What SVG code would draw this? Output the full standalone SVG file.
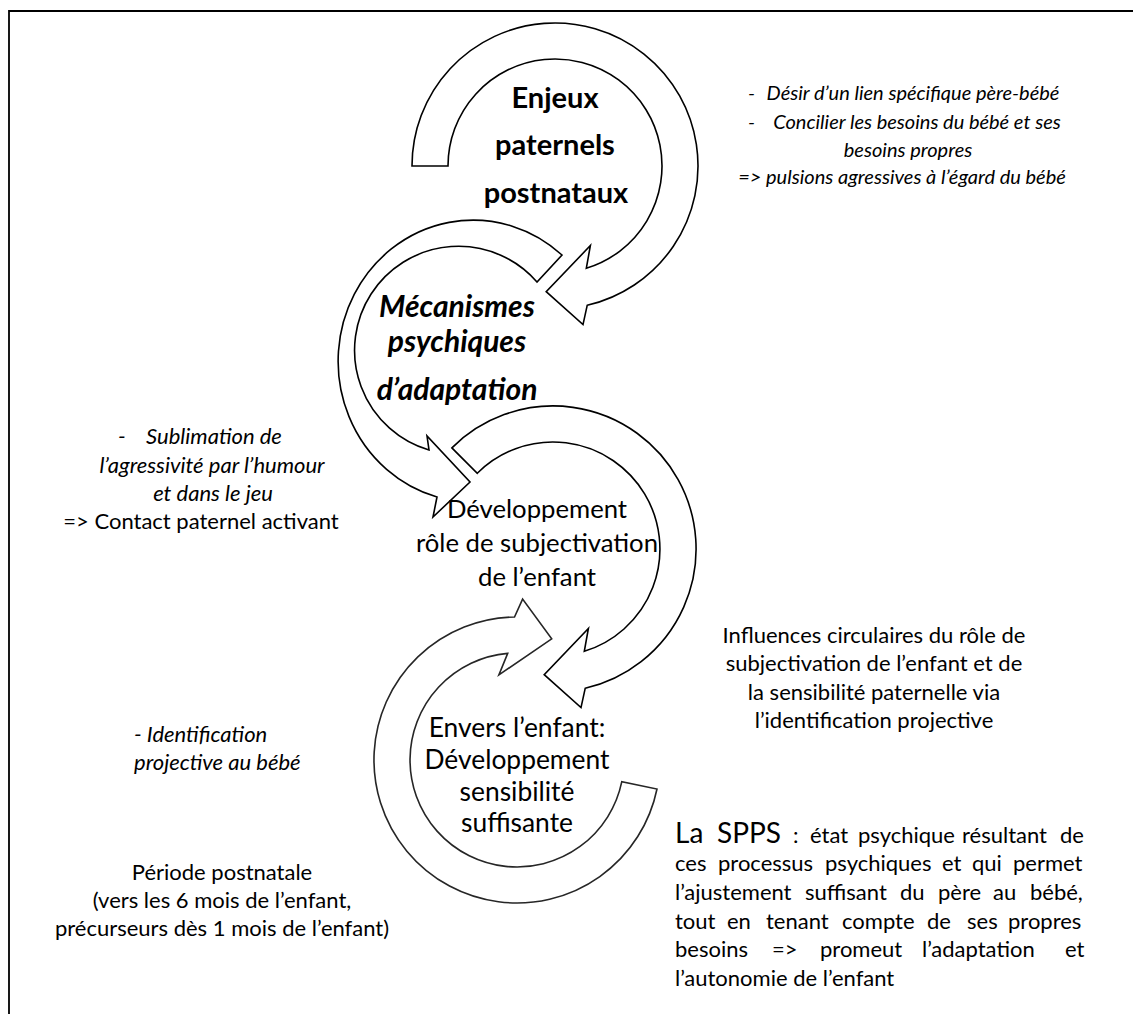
<svg xmlns="http://www.w3.org/2000/svg" width="1133" height="1014" viewBox="0 0 1133 1014">
<style>
  .arrow { fill: #ffffff; stroke: #000000; stroke-width: 1.6; stroke-linejoin: miter; }
  .arrow4 { fill: #ffffff; stroke: #262626; stroke-width: 1.6; }
  text { font-family: Lato, "Liberation Sans", sans-serif; fill: #000000; }
  .big { font-weight: bold; font-size: 29px; text-anchor: middle; }
  .bigi { font-weight: bold; font-style: italic; font-size: 30px; text-anchor: middle; }
  .mid { font-size: 25.7px; text-anchor: middle; }
  .body { font-size: 22px; }
  .it { font-style: italic; }
  .c { text-anchor: middle; }
</style>
<path d="M9,1014 L9,11 L1133,11" fill="none" stroke="#000" stroke-width="1.8"/>

<g id="n-enjeux">
  <path class="arrow" d="M412,166 A143,143 0 1 1 587.2,305.3 L583,324.6 L546.2,291.7 L590.4,245.5 L586.3,268.3 A107,107 0 1 0 448,166 Z"/>
  <text class="big" x="555" y="108">Enjeux</text>
  <text class="big" x="555" y="155">paternels</text>
  <text class="big" x="556" y="203">postnataux</text>
</g>

<g id="n-mecanismes">
  <path class="arrow" d="M562,255 A135,141 0 1 0 437,497 L433,517 L470,482 L427,436 L429,450 A104,104 0 1 1 537,282 Z"/>
  <text class="bigi" x="457" y="317">Mécanismes</text>
  <text class="bigi" x="457" y="352">psychiques</text>
  <text class="bigi" x="457" y="400">d’adaptation</text>
</g>

<g id="n-developpement">
  <path class="arrow" d="M451.9,447.9 A143,143 0 1 1 585.2,688.3 L581,707.6 L544.2,674.7 L588.4,628.5 L584.3,651.3 A107,107 0 1 0 477.3,473.3 Z"/>
  <text class="mid" x="537" y="518">Développement</text>
  <text class="mid" x="537" y="552">rôle de subjectivation</text>
  <text class="mid" x="537" y="586">de l’enfant</text>
</g>

<g id="n-sensibilite">
  <path class="arrow4" d="M657,789 A143,143 0 1 1 514.5,617 L522.6,599.1 L551.7,638.9 L498.9,674.9 L507.7,653.4 A107,107 0 1 0 621.8,781.7 Z"/>
  <text class="mid" x="517" y="737" style="font-size:26.4px">Envers l’enfant:</text>
  <text class="mid" x="517" y="769" style="font-size:26.4px">Développement</text>
  <text class="mid" x="517" y="801" style="font-size:26.4px">sensibilité</text>
  <text class="mid" x="517" y="832" style="font-size:26.4px">suffisante</text>
</g>

<g id="t-enjeux-notes" class="it" style="font-size:20px">
  <text x="748" y="100">-</text>
  <text class="c" x="913" y="100">Désir d’un lien spécifique père-bébé</text>
  <text x="748" y="129">-</text>
  <text class="c" x="917" y="129">Concilier les besoins du bébé et ses</text>
  <text class="c" x="908" y="157">besoins propres</text>
  <text class="c" x="902" y="184">=&gt; pulsions agressives à l’égard du bébé</text>
</g>

<g id="t-mecanismes-notes" class="body">
  <text class="it" x="118" y="444">-</text>
  <text class="it c" x="214" y="444">Sublimation de</text>
  <text class="it c" x="212" y="473">l’agressivité par l’humour</text>
  <text class="it c" x="213" y="501">et dans le jeu</text>
  <text class="c" x="201" y="529">=&gt; Contact paternel activant</text>
</g>

<g id="t-identification" class="body it">
  <text x="134" y="742">- Identification</text>
  <text x="134" y="770">projective au bébé</text>
</g>

<g id="t-periode" class="body">
  <text class="c" x="222" y="880">Période postnatale</text>
  <text class="c" x="222" y="908">(vers les 6 mois de l’enfant,</text>
  <text class="c" x="222" y="936">précurseurs dès 1 mois de l’enfant)</text>
</g>

<g id="t-influences" class="body">
  <text class="c" x="874" y="643">Influences circulaires du rôle de</text>
  <text class="c" x="874" y="671">subjectivation de l’enfant et de</text>
  <text class="c" x="874" y="700">la sensibilité paternelle via</text>
  <text class="c" x="874" y="728">l’identification projective</text>
</g>

<g id="t-spps" class="body">
  <text y="843"><tspan x="675" style="font-size:28px">La</tspan><tspan x="717" style="font-size:28px">SPPS</tspan><tspan x="793">:</tspan><tspan x="810">état</tspan><tspan x="858">psychique</tspan><tspan x="962">résultant</tspan><tspan x="1060">de</tspan></text>
  <text y="871"><tspan x="675">ces</tspan><tspan x="718">processus</tspan><tspan x="825">psychiques</tspan><tspan x="942">et</tspan><tspan x="972">qui</tspan><tspan x="1013">permet</tspan></text>
  <text y="900"><tspan x="675">l’ajustement</tspan><tspan x="805">suffisant</tspan><tspan x="900">du</tspan><tspan x="938">père</tspan><tspan x="993">au</tspan><tspan x="1030">bébé,</tspan></text>
  <text y="929"><tspan x="675">tout</tspan><tspan x="727">en</tspan><tspan x="766">tenant</tspan><tspan x="842">compte</tspan><tspan x="927">de</tspan><tspan x="967">ses</tspan><tspan x="1008">propres</tspan></text>
  <text y="957"><tspan x="675">besoins</tspan><tspan x="772">=&gt;</tspan><tspan x="820">promeut</tspan><tspan x="922">l’adaptation</tspan><tspan x="1065">et</tspan></text>
  <text x="675" y="986">l’autonomie de l’enfant</text>
</g>
</svg>
